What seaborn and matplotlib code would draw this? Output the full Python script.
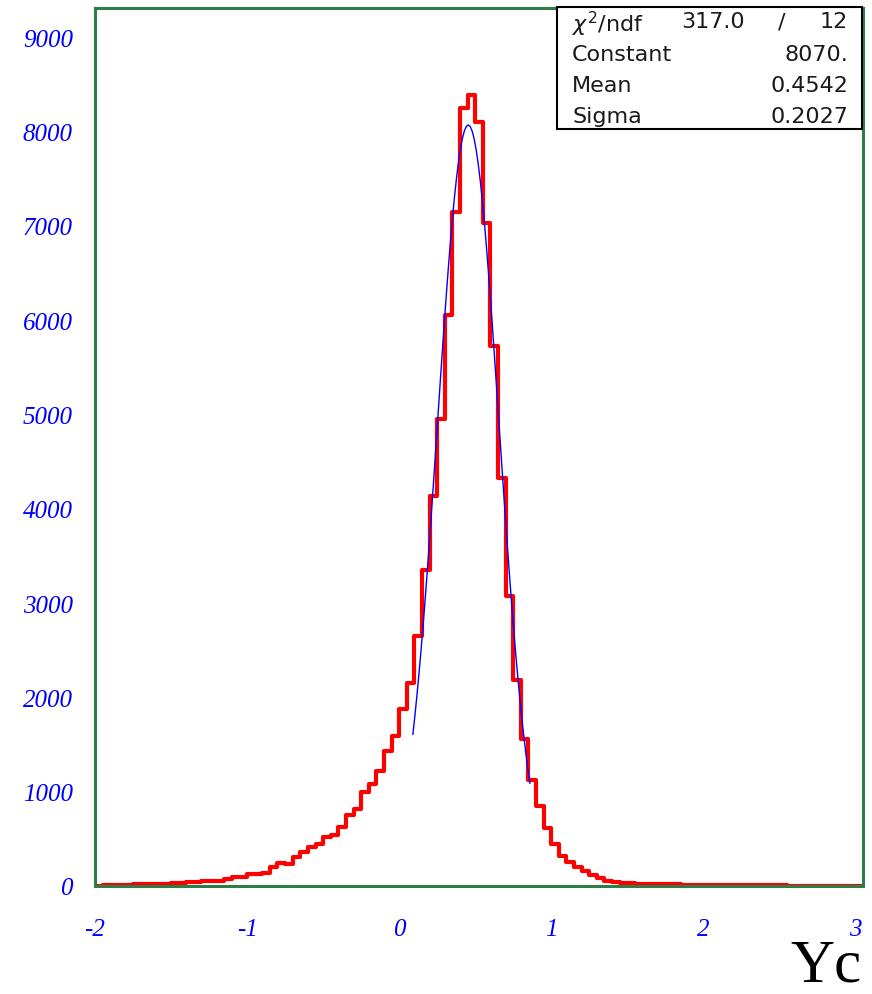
import numpy as np
import pandas as pd
import matplotlib
matplotlib.use("Agg")
import matplotlib.pyplot as plt
import seaborn as sns
from matplotlib.ticker import MultipleLocator, FixedLocator
from matplotlib.patches import Rectangle

# ---- data ----
bin_start = -2.0
bin_width = 0.05
counts = [5, 8, 10, 12, 14, 16, 18, 20, 22, 26,
          32, 34, 40, 42, 48, 54, 58, 75, 95, 100,
          123, 130, 141, 201, 244, 233, 304, 360, 413, 445,
          520, 544, 626, 749, 820, 1000, 1082, 1223, 1428, 1587,
          1880, 2156, 2648, 3351, 4136, 4952, 6058, 7150, 8250, 8390,
          8102, 7031, 5730, 4327, 3072, 2184, 1555, 1127, 852, 612,
          445, 322, 251, 198, 156, 117, 82, 56, 46, 35,
          33, 25, 22, 20, 18, 20, 17, 14, 12, 10,
          10, 9, 9, 8, 8, 7, 7, 7, 6, 6,
          6, 5, 5, 5, 5, 4, 4, 4, 4, 4, 3]
fit_constant = 8070.0
fit_mean = 0.4542
fit_sigma = 0.2027
fit_range = [0.09, 0.86]
chi2_text = "317.0"
ndf_text = "12"
x_tick_values = [-2, -1, 0, 1, 2, 3]
x_tick_labels = ["-2", "-1", "0", "1", "2", "3"]
y_tick_values = [0, 1000, 2000, 3000, 4000, 5000, 6000, 7000, 8000, 9000]
y_tick_labels = ["0", "1000", "2000", "3000", "4000", "5000", "6000", "7000", "8000", "9000"]
x_title = "Yc"

nbins = len(counts)
bin_end = bin_start + bin_width * nbins
centers = bin_start + bin_width * (np.arange(nbins) + 0.5)
df = pd.DataFrame({"x": centers, "w": np.asarray(counts, dtype=float)})

sns.set_style("white")
plt.rcParams['font.family'] = ['DejaVu Sans']

fig = plt.figure(figsize=(8.72, 9.95), dpi=100)
ax = fig.add_axes([95/872, 1 - 887/995, (863-95)/872, (887-9)/995])

sns.histplot(data=df, x="x", weights="w", bins=nbins, binrange=(bin_start, bin_end),
             element="step", fill=False, color="#ff0000", linewidth=3, ax=ax)

xf = np.linspace(fit_range[0], fit_range[1], 60)
yf = fit_constant * np.exp(-0.5 * ((xf - fit_mean) / fit_sigma) ** 2)
sns.lineplot(x=xf, y=yf, color="#0000ff", linewidth=1, ax=ax)

ax.set_xlim(bin_start, bin_end)
ax.set_ylim(0, 9310)
ax.set_xlabel("")
ax.set_ylabel("")

green = "#2f7d46"
for s in ax.spines.values():
    s.set_color(green)
    s.set_linewidth(2.2)
    s.set_visible(True)

ax.xaxis.set_major_locator(FixedLocator(x_tick_values))
ax.set_xticklabels(x_tick_labels)
ax.xaxis.set_minor_locator(MultipleLocator(0.2))
ax.yaxis.set_major_locator(FixedLocator(y_tick_values))
ax.set_yticklabels(y_tick_labels)
ax.yaxis.set_minor_locator(MultipleLocator(200))

ax.tick_params(axis="both", which="major", direction="in", length=17, width=1.2,
               color="#0000ff", labelcolor="#0000ff")
ax.tick_params(axis="both", which="minor", direction="in", length=8, width=1.2,
               color="#0000ff")
ax.tick_params(axis="x", which="major", pad=23)
ax.tick_params(axis="y", which="major", pad=16)
for lab in ax.get_xticklabels() + ax.get_yticklabels():
    lab.set_fontfamily("Liberation Serif")
    lab.set_fontstyle("italic")
    lab.set_fontsize(18)

# stats box
bx0, bx1 = 557/872, 862/872
by0, by1 = 1 - 130/995, 1 - 8/995
fig.patches.append(Rectangle((bx0, by0), bx1 - bx0, by1 - by0, transform=fig.transFigure,
                             facecolor="white", edgecolor="black", linewidth=1.5, zorder=5))
rows = [(24, r"$\chi^2$/ndf", None), (55, "Constant", "8070."),
        (86, "Mean", "0.4542"), (117, "Sigma", "0.2027")]
fs = 16
tc = "#1a1a1a"
for ypx, lt, rt in rows:
    yy = 1 - ypx/995
    fig.text(572/872, yy, lt, ha="left", va="center", fontsize=fs, color=tc, zorder=6)
    if rt is not None:
        fig.text(848/872, yy, rt, ha="right", va="center", fontsize=fs, color=tc, zorder=6)
yy = 1 - 22/995
fig.text(745/872, yy, chi2_text, ha="right", va="center", fontsize=fs, color=tc, zorder=6)
fig.text(782/872, yy, "/", ha="center", va="center", fontsize=fs, color=tc, zorder=6)
fig.text(848/872, yy, ndf_text, ha="right", va="center", fontsize=fs, color=tc, zorder=6)

fig.text(862/872, 1 - 982/995, x_title, ha="right", va="baseline", fontsize=44,
         family="Liberation Serif", color="black")

fig.savefig("out.png", dpi=100)
